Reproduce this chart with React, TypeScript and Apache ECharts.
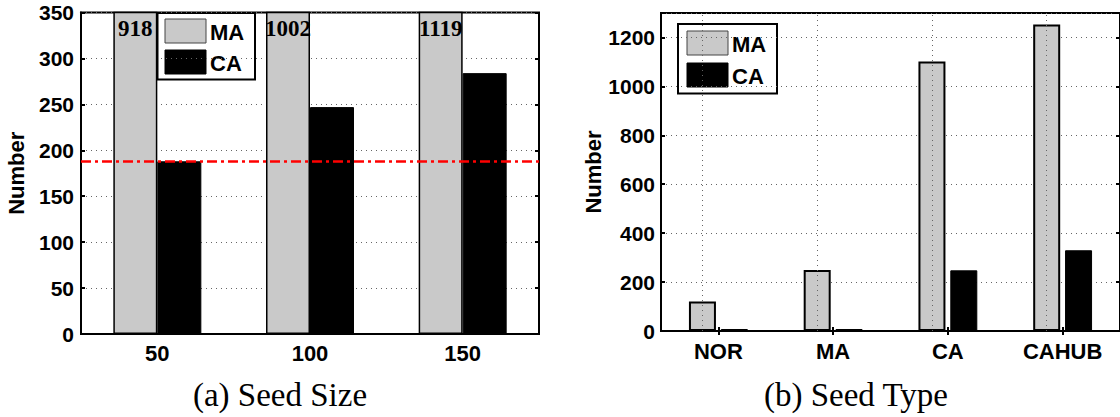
import React, { useEffect, useRef } from 'react';
import * as echarts from 'echarts';

// (a) Seed Size
const sizeCategories = ['50', '100', '150'];
const sizeMA = [918, 1002, 1119];
const sizeCA = [188, 247, 284];
const sizeRefLine = 188;
const sizeYMin = 0;
const sizeYMax = 350;
const sizeYStep = 50;

// (b) Seed Type
const typeCategories = ['NOR', 'MA', 'CA', 'CAHUB'];
const typeMA = [121, 249, 1102, 1253];
const typeCA = [4, 7, 248, 330];
const typeYMin = 0;
const typeYMax = 1300;
const typeYStep = 200;

const seriesNames = ['MA', 'CA'];
const captions = ['(a) Seed Size', '(b) Seed Type'];

const SANS = '"Liberation Sans", Arial, Helvetica, sans-serif';
const SERIF = '"Liberation Serif", "Times New Roman", serif';
const GREY = '#c9c9c9';
const SERIES_COLORS = [GREY, '#000'];

const gridLine = { show: true, lineStyle: { color: '#666', width: 1, type: [1, 4] as any } };

function legendGraphic(x: number, y: number, w: number, h: number, padX: number, padY: number, gap: number) {
  const sw = 41;
  const sh = 24;
  const children: any[] = [
    { type: 'rect', shape: { x: 0, y: 0, width: w, height: h }, style: { fill: '#fff', stroke: '#000', lineWidth: 2 } },
  ];
  seriesNames.forEach((name, i) => {
    const top = padY + i * (sh + gap);
    children.push({
      type: 'rect',
      shape: { x: padX, y: top, width: sw, height: sh },
      style: { fill: SERIES_COLORS[i], stroke: i === 0 ? '#444' : '#000', lineWidth: 1 },
    });
    children.push({
      type: 'text',
      x: padX + sw + 4,
      y: top + sh / 2 + 1,
      style: {
        text: name, fontFamily: SANS, fontWeight: 'bold', fontSize: 22, fill: '#000',
        align: 'left', verticalAlign: 'middle',
      },
    });
  });
  return { type: 'group', x, y, z: 100, children };
}

export default function App() {
  const ref = useRef<HTMLDivElement>(null);
  useEffect(() => {
    if (!ref.current) return;
    const chart = echarts.init(ref.current, null, { renderer: 'svg' });
    const tickLabel = { color: '#000', fontFamily: SANS, fontWeight: 700, fontSize: 21, formatter: (v: number) => String(v) };
    const option: any = {
      animation: false,
      backgroundColor: '#fff',
      grid: [
        { left: 81, top: 12.5, width: 458, height: 321.5, show: true, borderColor: '#000', borderWidth: 2, backgroundColor: 'transparent' },
        { left: 661, top: 13, width: 459, height: 318, show: true, borderColor: '#000', borderWidth: 2, backgroundColor: 'transparent' },
      ],
      xAxis: [
        {
          type: 'category', gridIndex: 0, data: sizeCategories, boundaryGap: true,
          axisLine: { lineStyle: { color: '#000', width: 2 } },
          axisTick: { show: false },
          axisLabel: { color: '#000', fontFamily: SANS, fontWeight: 700, fontSize: 22, margin: 8 },
          splitLine: { show: false },
        },
        {
          type: 'category', gridIndex: 1, data: typeCategories, boundaryGap: true,
          axisLine: { lineStyle: { color: '#000', width: 2 } },
          axisTick: { show: true, inside: true, alignWithLabel: true, length: 4, lineStyle: { color: '#000', width: 2 } },
          axisLabel: { color: '#000', fontFamily: SANS, fontWeight: 700, fontSize: 22, margin: 9 },
          splitLine: { show: false },
        },
        {
          type: 'category', gridIndex: 1, data: typeCategories, boundaryGap: true, position: 'top',
          axisLine: { show: false },
          axisTick: { show: true, inside: true, alignWithLabel: true, length: 4, lineStyle: { color: '#000', width: 2 } },
          axisLabel: { show: false },
          splitLine: { show: false },
        },
      ],
      yAxis: [
        {
          type: 'value', gridIndex: 0, min: sizeYMin, max: sizeYMax, interval: sizeYStep,
          name: 'Number', nameLocation: 'middle', nameGap: 54,
          nameTextStyle: { color: '#000', fontFamily: SANS, fontWeight: 700, fontSize: 22 },
          axisLine: { show: true, lineStyle: { color: '#000', width: 2 } },
          axisTick: { show: true, inside: true, length: 4, lineStyle: { color: '#000', width: 2 } },
          axisLabel: { ...tickLabel, margin: 7 },
          splitLine: gridLine,
        },
        {
          type: 'value', gridIndex: 0, position: 'right', min: sizeYMin, max: sizeYMax, interval: sizeYStep,
          axisLine: { show: false },
          axisTick: { show: true, inside: true, length: 4, lineStyle: { color: '#000', width: 2 } },
          axisLabel: { show: false },
          splitLine: { show: false },
        },
        {
          type: 'value', gridIndex: 1, min: typeYMin, max: typeYMax, interval: typeYStep,
          name: 'Number', nameLocation: 'middle', nameGap: 56,
          nameTextStyle: { color: '#000', fontFamily: SANS, fontWeight: 700, fontSize: 22 },
          axisLine: { show: true, lineStyle: { color: '#000', width: 2 } },
          axisTick: { show: true, inside: true, length: 4, lineStyle: { color: '#000', width: 2 } },
          axisLabel: { ...tickLabel, margin: 6, showMaxLabel: false },
          splitLine: gridLine,
        },
        {
          type: 'value', gridIndex: 1, position: 'right', min: typeYMin, max: typeYMax, interval: typeYStep,
          axisLine: { show: false },
          axisTick: { show: true, inside: true, length: 4, lineStyle: { color: '#000', width: 2 } },
          axisLabel: { show: false },
          splitLine: { show: false },
        },
      ],
      series: [
        {
          name: seriesNames[0], type: 'bar', xAxisIndex: 0, yAxisIndex: 0, data: sizeMA,
          barWidth: 44, barGap: '0%', clip: true,
          itemStyle: { color: SERIES_COLORS[0], borderColor: '#000', borderWidth: 1.5 },
          label: {
            show: true, position: 'insideTop', distance: 5, formatter: '{c}',
            color: '#000', fontFamily: SERIF, fontWeight: 700, fontSize: 23,
          },
        },
        {
          name: seriesNames[1], type: 'bar', xAxisIndex: 0, yAxisIndex: 0, data: sizeCA,
          barWidth: 44, barGap: '0%', clip: true,
          itemStyle: { color: SERIES_COLORS[1], borderColor: '#000', borderWidth: 1 },
          markLine: {
            silent: true, symbol: ['none', 'none'],
            label: { show: false },
            lineStyle: { color: '#ff0000', width: 2.5, type: [10, 4, 3, 4] },
            data: [{ yAxis: sizeRefLine }],
          },
        },
        {
          name: seriesNames[0], type: 'bar', xAxisIndex: 1, yAxisIndex: 2, data: typeMA,
          barWidth: 27, barGap: '18%',
          itemStyle: { color: SERIES_COLORS[0], borderColor: '#000', borderWidth: 2 },
          markLine: {
            silent: true, symbol: ['none', 'none'],
            label: { show: false },
            lineStyle: { color: '#666', width: 1, type: [1, 4] },
            data: typeCategories.map((c) => ({ xAxis: c })),
          },
        },
        {
          name: seriesNames[1], type: 'bar', xAxisIndex: 1, yAxisIndex: 2, data: typeCA,
          barWidth: 27, barGap: '18%', barMinHeight: 2,
          itemStyle: { color: SERIES_COLORS[1], borderColor: '#000', borderWidth: 1 },
        },
      ],
      graphic: [
        legendGraphic(157.5, 13, 97.5, 66.5, 7.5, 6, 7),
        legendGraphic(678, 24, 99, 69.5, 9, 7, 8),
        {
          type: 'text', x: 280, y: 395,
          style: { text: captions[0], fontFamily: SERIF, fontSize: 33, fill: '#000', align: 'center', verticalAlign: 'middle' },
        },
        {
          type: 'text', x: 856, y: 395,
          style: { text: captions[1], fontFamily: SERIF, fontSize: 33, fill: '#000', align: 'center', verticalAlign: 'middle' },
        },
      ],
    };
    chart.setOption(option);
    return () => chart.dispose();
  }, []);
  return (
    <div
      ref={ref}
      style={{ position: 'absolute', left: 0, top: 0, width: 1120, height: 417, background: '#fff' }}
    />
  );
}
